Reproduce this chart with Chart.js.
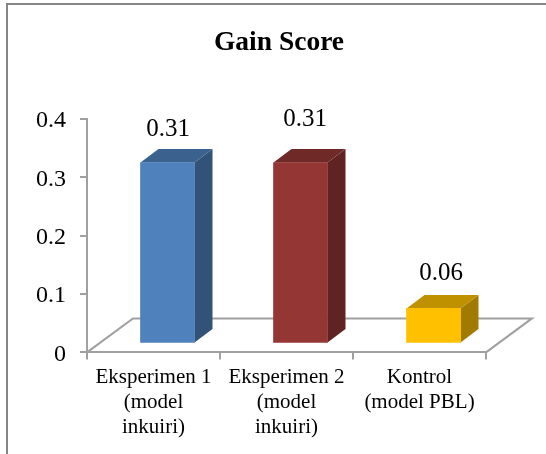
<!DOCTYPE html>
<html>
<head>
<meta charset="utf-8">
<title>Gain Score</title>
<script src="https://cdn.jsdelivr.net/npm/chart.js@4"></script>
<style>
  html, body { margin: 0; padding: 0; background: #fff; overflow: hidden; }
  #wrap { position: absolute; left: 0; top: 0; width: 546px; height: 454px; }
</style>
</head>
<body>
<div id="wrap"><canvas id="myChart" width="546" height="454"></canvas></div>
<script>
var categories = [
  ['Eksperimen 1', '(model', 'inkuiri)'],
  ['Eksperimen 2', '(model', 'inkuiri)'],
  ['Kontrol', '(model PBL)']
];
var gainScores = [0.31, 0.31, 0.06];
var barColors = ['#4f81bd', '#943634', '#ffc000'];
var topColors = ['#3b618e', '#6f2927', '#bf9000'];
var sideColors = ['#325278', '#5e2322', '#a27a00'];
var valueLabels = ['0.31', '0.31', '0.06'];
var yTicks = [0, 0.1, 0.2, 0.3, 0.4];
var chartTitle = 'Gain Score';

var serif = '"Liberation Serif", serif';
// 3d look: the front of a bar sits up and right of its slot, depth goes to the back
var shiftX = 14, shiftY = -9;
var depthX = 18, depthY = -13.5;
var labelNudge = [[0.5, -7.5], [4.5, -17.5], [7.5, -8.5]];

var box3d = {
  id: 'box3d',
  beforeDatasetsDraw: function (chart) {
    var c = chart.ctx, a = chart.chartArea;
    // floor
    c.save();
    c.strokeStyle = '#a0a0a0';
    c.lineWidth = 2;
    c.beginPath();
    c.moveTo(a.left, a.bottom);
    c.lineTo(a.left + 46, a.bottom - 34);
    c.lineTo(a.right + 46, a.bottom - 34);
    c.lineTo(a.right, a.bottom);
    c.stroke();
    // bar side and top
    chart.getDatasetMeta(0).data.forEach(function (bar, i) {
      var l = bar.x - bar.width / 2 + shiftX, r = bar.x + bar.width / 2 + shiftX;
      var t = bar.y + shiftY, b = bar.base + shiftY;
      c.fillStyle = sideColors[i];
      c.beginPath();
      c.moveTo(r, t);
      c.lineTo(r + depthX, t + depthY);
      c.lineTo(r + depthX, b + depthY);
      c.lineTo(r, b);
      c.closePath();
      c.fill();
      c.fillStyle = topColors[i];
      c.beginPath();
      c.moveTo(l, t);
      c.lineTo(l + depthX, t + depthY);
      c.lineTo(r + depthX, t + depthY);
      c.lineTo(r, t);
      c.closePath();
      c.fill();
    });
    c.restore();
  },
  beforeDatasetDraw: function (chart) {
    chart.ctx.save();
    chart.ctx.translate(shiftX, shiftY);
  },
  afterDatasetDraw: function (chart) {
    chart.ctx.restore();
  },
  afterDatasetsDraw: function (chart) {
    var c = chart.ctx;
    c.save();
    c.fillStyle = '#000';
    c.font = '25px ' + serif;
    c.textAlign = 'center';
    c.textBaseline = 'bottom';
    chart.getDatasetMeta(0).data.forEach(function (bar, i) {
      c.fillText(valueLabels[i], bar.x + shiftX + labelNudge[i][0], bar.y + shiftY + depthY + labelNudge[i][1]);
    });
    c.restore();
  },
  // title and the frame of the chart, only top and left show in the picture
  afterDraw: function (chart) {
    var c = chart.ctx;
    c.save();
    c.fillStyle = '#000';
    c.font = 'bold 27.5px ' + serif;
    c.textAlign = 'center';
    c.textBaseline = 'middle';
    c.fillText(chartTitle, 279, 43);
    c.strokeStyle = '#868686';
    c.lineWidth = 2;
    c.beginPath();
    c.moveTo(7, 454);
    c.lineTo(7, 4);
    c.lineTo(546, 4);
    c.stroke();
    c.restore();
  }
};

var chart = new Chart(document.getElementById('myChart'), {
  type: 'bar',
  data: {
    labels: categories,
    datasets: [{
      data: gainScores,
      backgroundColor: barColors,
      barThickness: 54
    }]
  },
  plugins: [box3d],
  options: {
    responsive: false,
    animation: false,
    layout: { padding: { left: 22, right: 60, top: 119, bottom: 9 } },
    plugins: {
      legend: { display: false },
      tooltip: { enabled: false },
      title: { display: false }
    },
    scales: {
      x: {
        border: { color: '#a0a0a0', width: 2 },
        grid: { drawOnChartArea: false, color: '#a0a0a0', lineWidth: 2, tickLength: 7 },
        ticks: {
          color: '#000',
          maxRotation: 0,
          autoSkip: false,
          padding: 5,
          font: { family: serif, size: 21, lineHeight: 1.2 }
        }
      },
      y: {
        min: 0,
        max: 0.4,
        afterBuildTicks: function (axis) {
          axis.ticks = yTicks.map(function (v) { return { value: v }; });
        },
        border: { color: '#a0a0a0', width: 2 },
        grid: { drawOnChartArea: false, color: '#a0a0a0', lineWidth: 2, tickLength: 7 },
        ticks: {
          color: '#000',
          padding: 14,
          labelOffset: 2,
          font: { family: serif, size: 24 }
        }
      }
    }
  }
});
</script>
</body>
</html>
